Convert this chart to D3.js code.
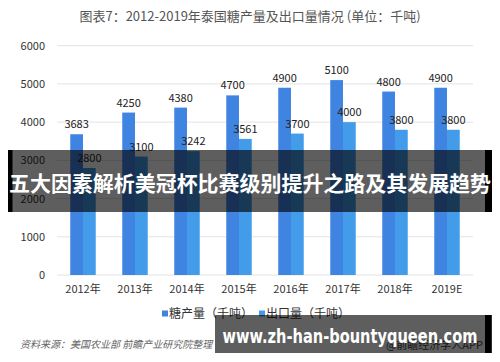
<!DOCTYPE html>
<html>
<head>
<meta charset="utf-8">
<script src="https://cdn.jsdelivr.net/npm/d3@7"></script>
<style>
  body { margin: 0; background: #fff; }
  svg { display: block; font-family: "Noto Sans CJK SC", "Noto Sans", sans-serif; }
</style>
</head>
<body>
<svg id="chart" width="500" height="362"></svg>
<script>
var years = ['2012年', '2013年', '2014年', '2015年', '2016年', '2017年', '2018年', '2019E'];
var sugarOutput = [3683, 4250, 4380, 4700, 4900, 5100, 4800, 4900];
var sugarExport = [2800, 3100, 3242, 3561, 3700, 4000, 3800, 3800];
var seriesNames = ['糖产量（千吨）', '出口量（千吨）'];
var yTicks = [0, 1000, 2000, 3000, 4000, 5000, 6000];

var colors = ['#3f84e0', '#439ce9'];
var svg = d3.select('#chart');
var margin = {left: 57, right: 27, top: 45.7, bottom: 87};
var width = 500, height = 362;

// title
svg.append('text')
	.attr('x', 250).attr('y', 21)
	.attr('text-anchor', 'middle')
	.style('font-size', '13px')
	.attr('fill', '#555')
	.text('图表7：2012-2019年泰国糖产量及出口量情况 (单位：千吨)');

var x = d3.scaleBand().domain(years).range([margin.left, width - margin.right]).paddingInner(0.51).paddingOuter(0.255);
var xs = d3.scaleBand().domain([0, 1]).range([0, x.bandwidth()]);
var y = d3.scaleLinear().domain([0, 6000]).range([height - margin.bottom, margin.top]);

var g = svg.append('g');

// grid + y labels
g.selectAll('.grid').data(yTicks).enter().append('line')
	.attr('x1', margin.left).attr('x2', width - margin.right)
	.attr('y1', function(d) { return y(d); })
	.attr('y2', function(d) { return y(d); })
	.attr('stroke', '#e3e3e3').attr('stroke-width', 1);

g.selectAll('.ylab').data(yTicks).enter().append('text')
	.attr('x', 45).attr('y', function(d) { return y(d) + 4; })
	.attr('text-anchor', 'end')
	.style('font-size', '11px').attr('fill', '#333')
	.text(function(d) { return d; });

// bars
var series = [sugarOutput, sugarExport];
series.forEach(function(vals, si) {
	g.selectAll('.bar' + si).data(vals).enter().append('rect')
		.attr('x', function(d, i) { return x(years[i]) + xs(si); })
		.attr('width', xs.bandwidth())
		.attr('y', function(d) { return y(d); })
		.attr('height', function(d) { return y(0) - y(d); })
		.attr('fill', colors[si]);
	g.selectAll('.lab' + si).data(vals).enter().append('text')
		.attr('x', function(d, i) { return x(years[i]) + xs(si) + xs.bandwidth() / 2; })
		.attr('y', function(d) { return y(d) - 6; })
		.attr('text-anchor', 'middle')
		.style('font-size', '11px').attr('fill', '#222')
		.text(function(d) { return d; });
});

// x labels
g.selectAll('.xlab').data(years).enter().append('text')
	.attr('x', function(d) { return x(d) + x.bandwidth() / 2; })
	.attr('y', 293)
	.attr('text-anchor', 'middle')
	.style('font-size', '11px').attr('fill', '#333')
	.text(function(d) { return d; });

// legend
var legendX = [162, 259];
seriesNames.forEach(function(name, i) {
	svg.append('rect').attr('x', legendX[i]).attr('y', 310.5).attr('width', 6).attr('height', 6).attr('fill', colors[i]);
	svg.append('text').attr('x', legendX[i] + 7).attr('y', 318)
		.style('font-size', '12px').attr('fill', '#333').text(name);
});

// source
svg.append('text').attr('x', 20).attr('y', 348)
	.style('font-size', '10px').style('font-style', 'italic').attr('fill', '#666')
	.text('资料来源：美国农业部 前瞻产业研究院整理');
svg.append('text').attr('x', 483).attr('y', 349)
	.attr('text-anchor', 'end')
	.style('font-size', '11px').attr('fill', '#444')
	.text('@前瞻经济学人APP');

// overlay banner
svg.append('rect').attr('x', 8).attr('y', 150).attr('width', 484).attr('height', 62).attr('fill', 'rgba(0,0,0,0.63)');
svg.append('rect').attr('x', 8).attr('y', 150).attr('width', 4.5).attr('height', 62).attr('fill', '#000');
svg.append('rect').attr('x', 485).attr('y', 150).attr('width', 7).attr('height', 62).attr('fill', '#000');
svg.append('text').attr('x', 250).attr('y', 190.5)
	.attr('text-anchor', 'middle')
	.attr('textLength', 482).attr('lengthAdjust', 'spacingAndGlyphs')
	.style('font-size', '21px').style('font-weight', 'bold').attr('fill', '#fff')
	.text('五大因素解析美冠杯比赛级别提升之路及其发展趋势');

// bottom url box
svg.append('rect').attr('x', 215).attr('y', 315).attr('width', 277).attr('height', 38).attr('fill', 'rgba(0,0,0,0.63)');
svg.append('rect').attr('x', 485).attr('y', 315).attr('width', 6.5).attr('height', 38).attr('fill', '#000');
svg.append('text').attr('x', 350).attr('y', 343)
	.attr('text-anchor', 'middle')
	.attr('textLength', 255).attr('lengthAdjust', 'spacingAndGlyphs')
	.style('font-size', '20px').style('font-weight', 'bold').attr('fill', '#fff')
	.style('font-family', '"DejaVu Sans", sans-serif')
	.text('www.zh-han-bountyqueen.com');
</script>
</body>
</html>
